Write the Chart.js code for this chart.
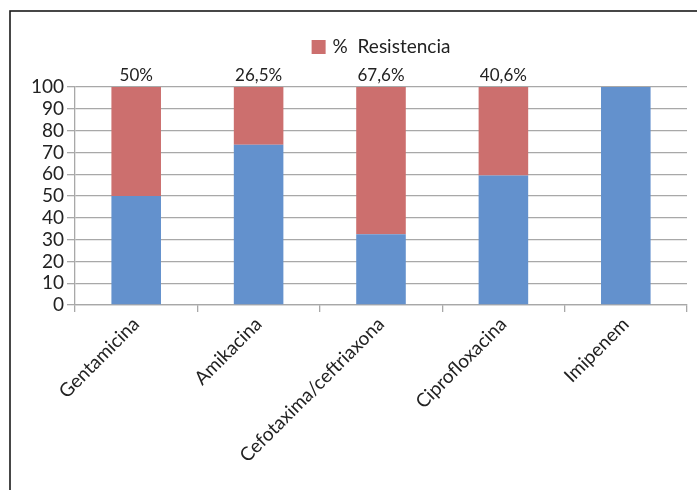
<!DOCTYPE html>
<html>
<head>
<meta charset="utf-8">
<script src="https://cdn.jsdelivr.net/npm/chart.js@4/dist/chart.umd.min.js"></script>
<style>
  html, body { margin: 0; padding: 0; background: #fff; }
  #wrap { width: 697px; height: 490px; }
</style>
</head>
<body>
<div id="wrap"><canvas id="c" width="697" height="490"></canvas></div>
<script>
// Antibiotics tested
const categories = ['Gentamicina', 'Amikacina', 'Cefotaxima/ceftriaxona', 'Ciprofloxacina', 'Imipenem'];
// Percentage of resistant isolates (stated above each bar)
const resistencia = [50, 26.5, 67.6, 40.6, 0];
// Remaining percentage (sensitive isolates)
const sensibilidad = [50, 73.5, 32.4, 59.4, 100];
// Value-axis ticks
const yTicks = [0, 10, 20, 30, 40, 50, 60, 70, 80, 90, 100];

const BLUE = '#6391cd';
const RED = '#cc6f6e';
const GRID = '#a8a8a8';
const FONT = 'Lato, "Open Sans", sans-serif';

// Frame around the whole figure
const framePlugin = {
  id: 'frame',
  beforeDraw(chart) {
    const ctx = chart.ctx;
    ctx.save();
    ctx.fillStyle = '#fff';
    ctx.fillRect(0, 0, chart.width, chart.height);
    ctx.strokeStyle = '#1a1a1a';
    ctx.lineWidth = 1.6;
    ctx.strokeRect(10, 11, 800, 600);
    ctx.restore();
  }
};

// Legend entry for the resistance series, centred over the plot area
const legendPlugin = {
  id: 'resLegend',
  afterDraw(chart) {
    const ctx = chart.ctx;
    const ds = chart.data.datasets[1];
    const area = chart.chartArea;
    ctx.save();
    ctx.font = '19px ' + FONT;
    const tw = ctx.measureText(ds.label).width;
    const box = 14, gap = 7;
    const total = box + gap + tw;
    const x0 = (area.left + area.right) / 2 - total / 2;
    const cy = 47;
    ctx.fillStyle = ds.backgroundColor;
    ctx.fillRect(x0, cy - box / 2, box, box);
    ctx.fillStyle = '#222';
    ctx.textBaseline = 'middle';
    ctx.textAlign = 'left';
    ctx.fillText(ds.label, x0 + box + gap, cy);
    ctx.restore();
  }
};

// Percentage labels above each stacked bar
const valueLabelPlugin = {
  id: 'valueLabels',
  afterDatasetsDraw(chart) {
    const ctx = chart.ctx;
    const meta = chart.getDatasetMeta(1);
    const vals = chart.data.datasets[1].data;
    ctx.save();
    ctx.font = '17px ' + FONT;
    ctx.fillStyle = '#222';
    ctx.textAlign = 'center';
    ctx.textBaseline = 'bottom';
    meta.data.forEach((el, i) => {
      const v = vals[i];
      if (!v) return;
      const txt = String(v).replace('.', ',') + '%';
      ctx.fillText(txt, el.x, el.y - 3);
    });
    ctx.restore();
  }
};

new Chart(document.getElementById('c'), {
  type: 'bar',
  data: {
    labels: categories,
    datasets: [
      { label: '% Sensibilidad', data: sensibilidad, backgroundColor: BLUE, borderWidth: 0 },
      { label: '%  Resistencia', data: resistencia, backgroundColor: RED, borderWidth: 0 }
    ]
  },
  options: {
    responsive: false,
    animation: false,
    devicePixelRatio: 1,
    layout: { padding: { top: 87, left: 0, right: 10, bottom: 0 } },
    datasets: { bar: { barPercentage: 0.405, categoryPercentage: 1 } },
    plugins: {
      legend: { display: false },
      tooltip: { enabled: false }
    },
    scales: {
      x: {
        stacked: true,
        afterFit(scale) { scale.height = 185; },
        grid: { display: true, drawOnChartArea: false, drawTicks: true, tickLength: 7, color: GRID, lineWidth: 1.3, offset: true },
        border: { display: true, color: GRID, width: 1.3 },
        ticks: {
          autoSkip: false, minRotation: 45, maxRotation: 45, padding: 1,
          color: '#222', font: { family: FONT, size: 19 }
        }
      },
      y: {
        stacked: true,
        min: 0, max: 100,
        afterFit(scale) { scale.width = 75; },
        afterBuildTicks(scale) { scale.ticks = yTicks.map(v => ({ value: v })); },
        grid: { color: GRID, lineWidth: 1.3, drawTicks: true, tickLength: 8 },
        border: { display: true, color: GRID, width: 1.3 },
        ticks: { autoSkip: false, stepSize: 10, padding: 3, color: '#222', font: { family: FONT, size: 19 } }
      }
    }
  },
  plugins: [framePlugin, legendPlugin, valueLabelPlugin]
});
</script>
</body>
</html>
